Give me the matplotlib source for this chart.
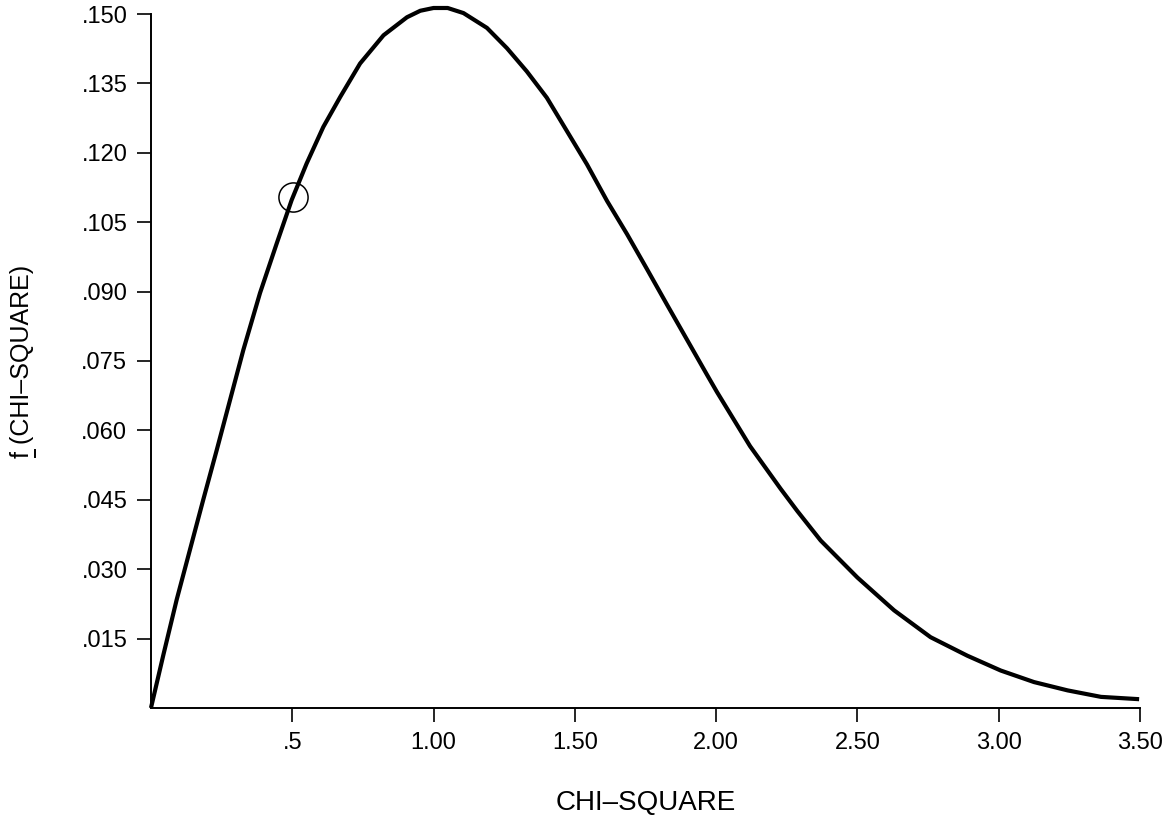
import matplotlib
matplotlib.use("Agg")
import matplotlib.pyplot as plt

plt.rcParams['font.family'] = ['Liberation Sans', 'DejaVu Sans']

# curve
chi_x = [0, 0.044, 0.091, 0.138, 0.185, 0.233, 0.280, 0.327, 0.386, 0.445,
         0.498, 0.551, 0.610, 0.670, 0.740, 0.823, 0.906, 0.953, 1.000, 1.050,
         1.106, 1.189, 1.260, 1.330, 1.401, 1.472, 1.543, 1.614, 1.685, 1.756,
         1.827, 1.898, 1.968, 2.003, 2.120, 2.228, 2.287, 2.370, 2.500, 2.630,
         2.759, 2.889, 3.007, 3.125, 3.244, 3.362, 3.497]
chi_f = [0, .0115, .0234, .0342, .0450, .0558, .0666, .0774, .0897, .1004,
         .1098, .1177, .1256, .1321, .1393, .1454, .1493, .1507, .1513, .1513,
         .1502, .1470, .1426, .1376, .1319, .1247, .1175, .1096, .1024, .0948,
         .0871, .0795, .0720, .0683, .0566, .0474, .0426, .0362, .0282, .0211,
         .0153, .0113, .0081, .0056, .0038, .0024, .0019]

# circled point
mark_x = [0.503]
mark_f = [0.1105]

x_ticks = [0.5, 1.0, 1.5, 2.0, 2.5, 3.0, 3.5]
x_labels = ['.5', '1.00', '1.50', '2.00', '2.50', '3.00', '3.50']
y_ticks = [0.015, 0.030, 0.045, 0.060, 0.075, 0.090, 0.105, 0.120, 0.135, 0.150]
y_labels = ['.015', '.030', '.045', '.060', '.075', '.090', '.105', '.120', '.135', '.150']

fig = plt.figure(figsize=(11.63, 8.24), dpi=100)
ax = fig.add_axes([0.1298, 0.1408, 0.8504, 0.8422])

ax.plot(chi_x, chi_f, color='black', lw=3.0, clip_on=False,
        solid_capstyle='butt', solid_joinstyle='round')
ax.plot(mark_x, mark_f, marker='o', ms=21, mfc='none', mec='black', mew=1.1,
        ls='none', clip_on=False)

ax.set_xlim(0, 3.5)
ax.set_ylim(0, 0.150)

for s in ['top', 'right']:
    ax.spines[s].set_visible(False)
for s in ['left', 'bottom']:
    ax.spines[s].set_linewidth(1.4)

ax.set_xticks(x_ticks)
ax.set_xticklabels(x_labels)
ax.set_yticks(y_ticks)
ax.set_yticklabels(y_labels)
# small inner part of the crossing ticks
ax.set_xticks(x_ticks, minor=True)
ax.set_yticks(y_ticks, minor=True)

ax.tick_params(which='major', direction='out', length=10, width=1.2,
               labelsize=17, pad=7)
ax.tick_params(which='minor', direction='in', length=3, width=1.2)

ax.set_xlabel('CHI–SQUARE', fontsize=20, labelpad=26)
ax.set_ylabel('f (CHI–SQUARE)', fontsize=18, labelpad=34)

# underline under the f of the y label (rotated text: underline sits to the right)
fig.canvas.draw()
bb = ax.yaxis.label.get_window_extent()
fw = fig.dpi / 72 * 18 * 0.30
ux = bb.x1 + 1
ax.add_line(plt.Line2D([ux, ux], [bb.y0 + 1, bb.y0 + fw], transform=None,
                       color='black', lw=1.4, clip_on=False))

fig.savefig('out.png', dpi=100, facecolor='white')
